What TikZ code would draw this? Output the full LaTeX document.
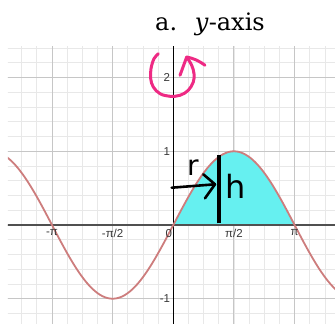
\documentclass[tikz,border=0pt]{standalone}
\usepackage{fontspec}
\newfontfamily\gridfont{Liberation Sans}
\newfontfamily\handfont{DejaVu Sans}
\newfontfamily\titlefont{DejaVu Serif}
\usetikzlibrary{positioning,calc}
\definecolor{minorgray}{RGB}{232,232,232}
\definecolor{majorgray}{RGB}{198,198,198}
\definecolor{axisgray}{RGB}{80,80,80}
\definecolor{sinered}{RGB}{205,125,125}
\definecolor{solidcyan}{RGB}{102,240,240}
\definecolor{inkpink}{RGB}{238,42,132}
\tikzset{
  minorline/.style={draw=minorgray, line width=0.8pt},
  majorline/.style={draw=majorgray, line width=0.9pt},
  axisline/.style={line width=1.4pt},
  sinecurve/.style={draw=sinered, line width=1.8pt},
  ticklabel/.style={font=\gridfont\fontsize{11.5}{13}\selectfont, text=black!78, inner sep=1pt},
  titletext/.style={font=\titlefont\fontsize{24}{28}\selectfont, anchor=base west, inner sep=0pt},
  ink/.style={line width=2.6pt, line cap=round, line join=round},
  pinkink/.style={ink, line width=3pt, draw=inkpink},
  handletter/.style={font=\handfont\fontsize{28}{32}\selectfont, inner sep=0pt},
}

\begin{document}
\begin{tikzpicture}[x=38.61pt, y=73.7pt]
% one unit across is a radian, one unit up is 1; the margins are set in pt
\useasboundingbox (-173.3pt,-99pt) rectangle (161.7pt,225pt);
\begin{scope}
\clip (-165.3pt,-99pt) rectangle (161.7pt,178.5pt);
\foreach \k in {-11,...,10}
  \draw[minorline] ({\k*pi/8},-1.4) -- ({\k*pi/8},2.5);
\foreach \k in {-7,...,12}
  \draw[minorline] (-4.5,{\k/5}) -- (4.3,{\k/5});
\foreach \k in {-2,...,2}
  \draw[majorline] ({\k*pi/2},-1.4) -- ({\k*pi/2},2.5);
\foreach \k in {-1,...,2}
  \draw[majorline] (-4.5,\k) -- (4.3,\k);
\fill[solidcyan] plot[domain=0:pi, samples=60] (\x,{sin(\x r)}) -- cycle;
\draw[axisline, draw=axisgray] (-4.5,0) -- (4.3,0);
\draw[axisline, draw=black] (0,-1.4) -- (0,2.5);
\draw[sinecurve] plot[domain=-4.5:4.3, samples=150] (\x,{sin(\x r)});
\end{scope}
\node[ticklabel, anchor=east, xshift=-2pt] (ytwo) at (0,2) {2};
\node[ticklabel, anchor=east, xshift=-2pt] (yone) at (0,1) {1};
\node[ticklabel, anchor=east, xshift=-2pt] (yminus) at (0,-1) {-1};
\node[ticklabel, anchor=north east, yshift=-3pt] (xzero) at (0,0) {0};
\foreach \xv/\lab [count=\i] in {-3.14159/-π, -1.570796/-π\slash 2, 1.570796/π\slash 2, 3.14159/π}
  \node[ticklabel, anchor=north, yshift=-3pt] (xl\i) at (\xv,0) {\lab};
\node[titletext] (title) at (-18.3pt,194.3pt) {a.};
\node[titletext] (titleaxis) at (21.5pt,194.3pt) {\textit{y}-axis};
% hand marks
\draw[pinkink] plot[smooth, tension=0.6] coordinates {(-15pt,171.3pt) (-19.3pt,166.3pt)
  (-22.3pt,156.3pt) (-22.6pt,146.3pt) (-20pt,138pt) (-13.3pt,131.3pt) (-3.3pt,128.7pt)
  (6.7pt,129.7pt) (15pt,134.7pt) (20pt,143pt) (20.7pt,151.3pt) (18.4pt,159.7pt)
  (13.4pt,168pt)};
\coordinate (spin) at (13.4pt,168pt);
\coordinate (spinleft) at (6.7pt,149.7pt);
\coordinate (spinright) at (31.7pt,159.7pt);
\draw[pinkink] (spinleft) -- (spin) to[bend left=12] (spinright);
\coordinate (hbase) at (45.7pt,1.7pt);
\coordinate (htop) at (45.7pt,70pt);
\draw[ink, line width=3.2pt, line cap=butt] (hbase) -- (htop);
\coordinate (rfoot) at (-1.6pt,37.3pt);
\coordinate (rtip) at (41.7pt,40.7pt);
\draw[ink] (rfoot) -- (rtip);
\draw[ink] ($(rtip)+(-11.7pt,10pt)$) -- (rtip) -- ($(rtip)+(-10pt,-14pt)$);
\node[handletter] (rlabel) at (19.7pt,57pt) {r};
\node[handletter, font=\handfont\fontsize{32}{36}\selectfont] (hlabel) at (62.7pt,39pt) {h};
\end{tikzpicture}
\end{document}
